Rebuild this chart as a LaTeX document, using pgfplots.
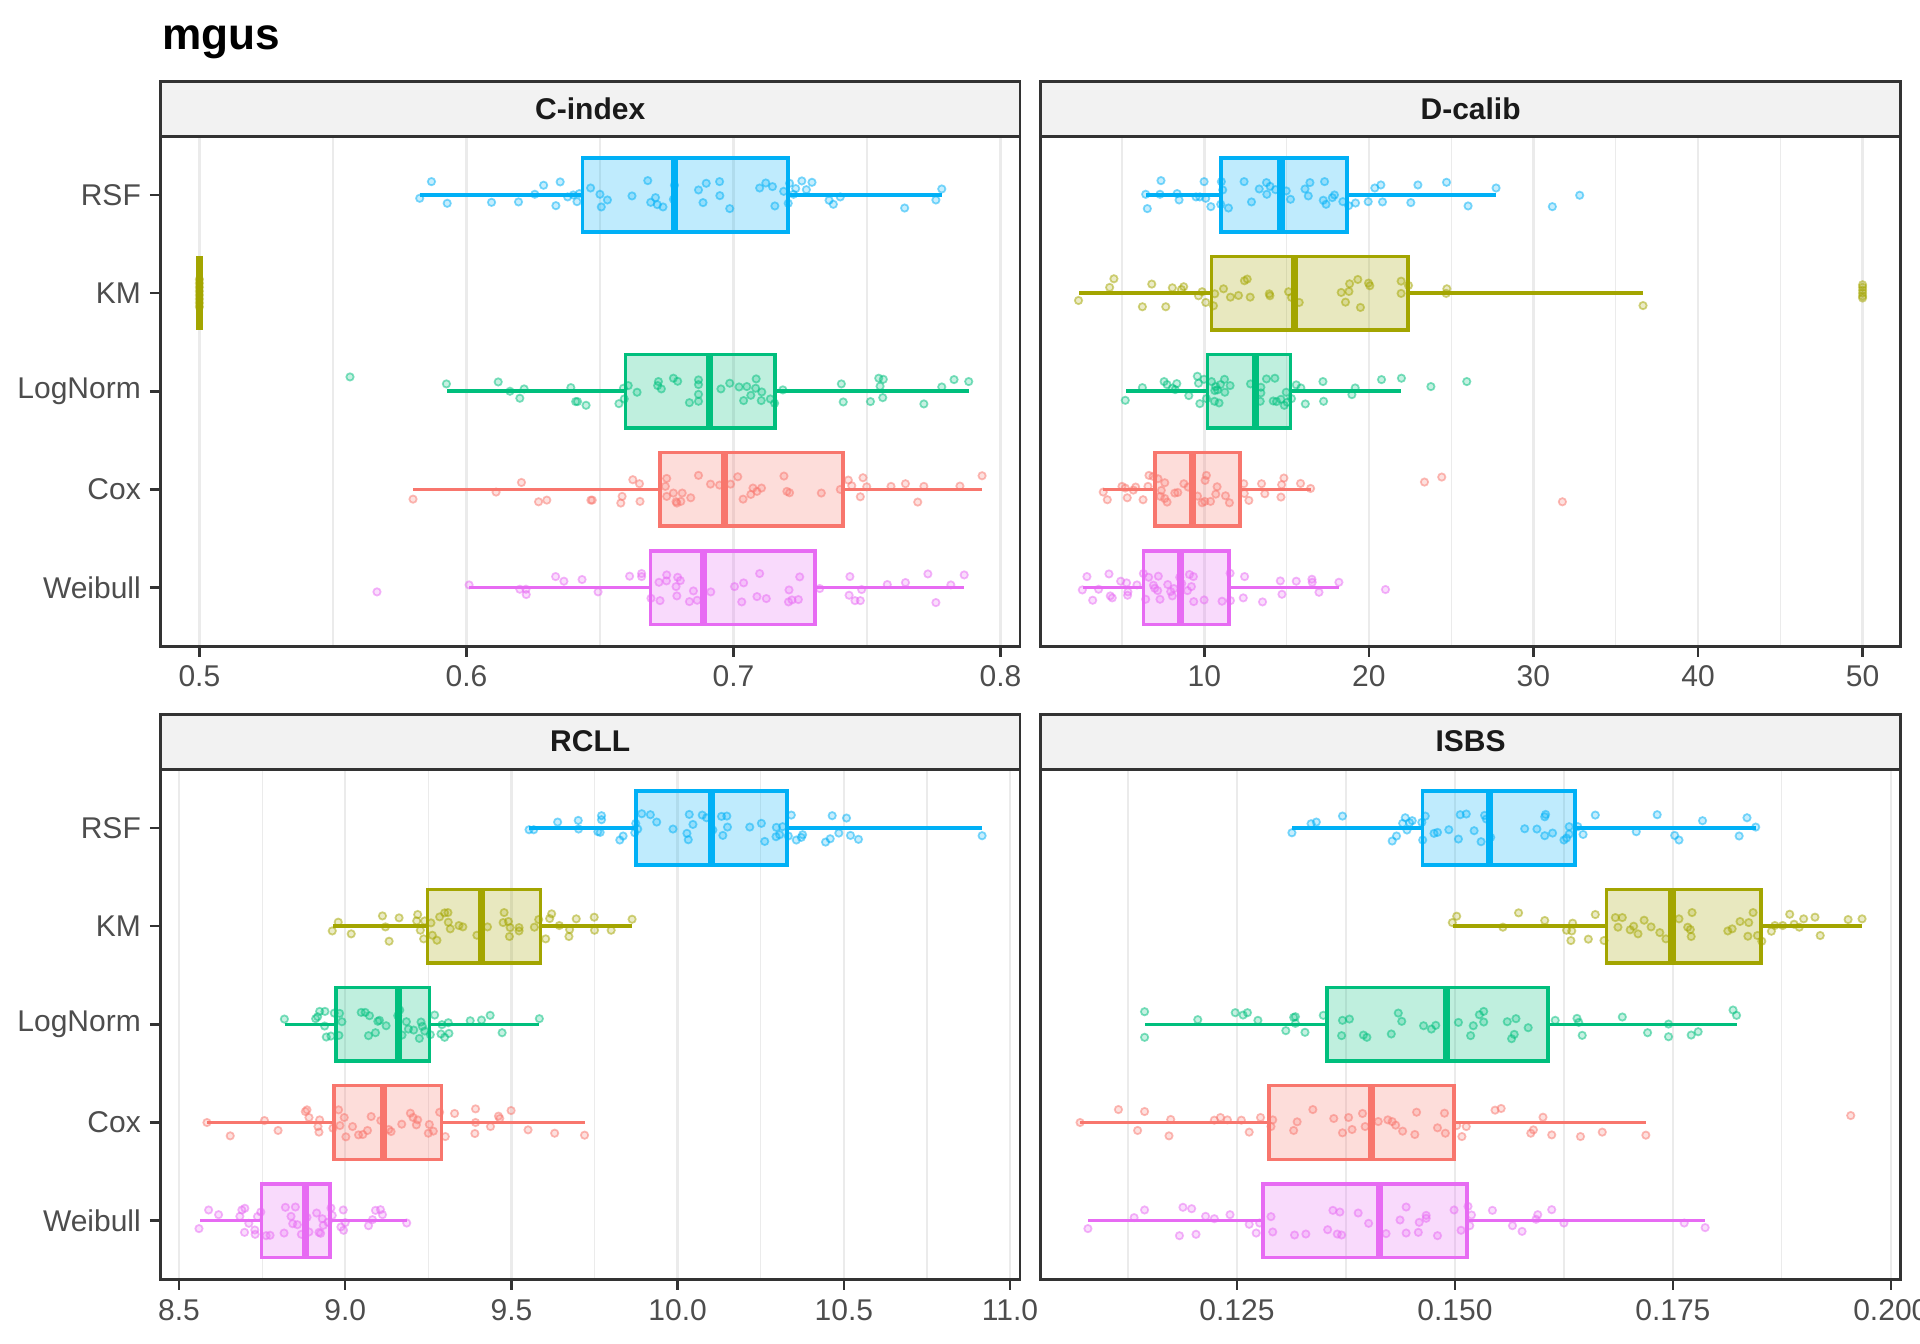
\documentclass[border=0pt]{standalone}
\usepackage{fontspec}
\setmainfont{Liberation Sans}
\usepackage{pgfplots}
\pgfplotsset{compat=1.18}
\usepgfplotslibrary{statistics}
\definecolor{cox}{HTML}{F8766D}
\definecolor{km}{HTML}{A3A500}
\definecolor{lognorm}{HTML}{00BF7D}
\definecolor{rsf}{HTML}{00B0F6}
\definecolor{weib}{HTML}{E76BF3}
\definecolor{grey20}{HTML}{333333}
\definecolor{grey30}{HTML}{4D4D4D}
\definecolor{grey10}{HTML}{1A1A1A}
\definecolor{gridgrey}{HTML}{EBEBEB}
\definecolor{stripgrey}{HTML}{F2F2F2}
\newcommand{\bx}[7]{\addplot[draw=#1, line width=0.85pt, boxplot prepared={draw position=#2, lower whisker=#3, lower quartile=#4, median=#5, upper quartile=#6, upper whisker=#7, box extend=0.75, whisker extend=0, every box/.style={draw=#1, fill=#1, fill opacity=0.25, line width=0.85pt}, every whisker/.style={draw=#1, line width=0.85pt}, every median/.style={draw=#1, line width=1.7pt}}] coordinates {};}
\newcommand{\pts}[2]{\addplot[only marks, mark=*, mark size=0.88pt, mark options={draw=#1, fill=#1, draw opacity=0.5, fill opacity=0.22, line width=0.42pt}] coordinates {#2};}
\newcommand{\strip}[1]{\draw[fill=stripgrey, draw=grey20, line width=0.7pt] (rel axis cs:0,1) rectangle ([yshift=13.2pt]rel axis cs:1,1);
\node[font=\bfseries\fontsize{7.2}{8.6}\selectfont, text=grey10] at ([yshift=6.6pt]rel axis cs:0.5,1) {#1};}
\pgfplotsset{
 panel/.style={scale only axis, width=206.3pt, height=122.5pt, ymin=0.4, ymax=5.6, clip=false,
  axis line style={draw=grey20, line width=0.7pt}, tick align=outside, xtick pos=bottom, ytick pos=left,
  major tick length=2.5pt, minor tick length=0pt, tick style={draw=grey20, line width=0.6pt},
  xmajorgrids, xminorgrids, major grid style={draw=gridgrey, line width=0.6pt}, minor grid style={draw=gridgrey, line width=0.3pt},
  ticklabel style={font=\fontsize{7.2}{8.6}\selectfont, text=grey30},
  xticklabel style={inner sep=0pt, yshift=-2pt}, yticklabel style={inner sep=0pt, xshift=-2pt}},
 leftp/.style={ytick={1,2,3,4,5}, yticklabels={Weibull,Cox,LogNorm,KM,RSF}},
 rightp/.style={ytick=\empty}
}
\begin{document}
\begin{tikzpicture}
\path[use as bounding box] (0,0) rectangle (460.8pt,322.56pt);
\node[anchor=base west, font=\bfseries\fontsize{10.6}{12}\selectfont, inner sep=0pt] at (38.7pt,310.6pt) {mgus};
% ---------------- C-index
\begin{axis}[panel, leftp, at={(38.5pt,167.4pt)}, anchor=south west,
 xmin=0.4854, xmax=0.8073, xtick={0.5,0.6,0.7,0.8}, xticklabels={0.5,0.6,0.7,0.8}, minor xtick={0.55,0.65,0.75}]
\bx{rsf}{5}{0.5825}{0.6434}{0.6779}{0.7204}{0.778}
\bx{km}{4}{0.5}{0.5}{0.5}{0.5}{0.5}
\bx{lognorm}{3}{0.5928}{0.6596}{0.691}{0.7155}{0.7881}
\bx{cox}{2}{0.58}{0.6725}{0.6968}{0.7411}{0.7931}
\bx{weib}{1}{0.601}{0.669}{0.6888}{0.7306}{0.7864}
\pts{rsf}{(0.5869,5.136) (0.5825,4.966) (0.5928,4.915) (0.6094,4.925) (0.6195,4.929) (0.6256,5.007) (0.6289,5.099) (0.6335,4.891) (0.6351,5.133) (0.6379,4.98) (0.6400,5.0) (0.6414,4.932) (0.6423,5.014) (0.6465,5.071) (0.6500,5.007) (0.6505,4.878) (0.6528,4.949) (0.6620,4.99) (0.6679,5.146) (0.6690,4.925) (0.6708,4.973) (0.6715,4.901) (0.6736,4.878) (0.6775,4.956) (0.6779,5.099) (0.6869,5.051) (0.6898,5.119) (0.6948,5.136) (0.6949,4.993) (0.6886,4.922) (0.6986,4.861) (0.7098,5.071) (0.7121,5.122) (0.7146,5.085) (0.7155,4.888) (0.7188,5.037) (0.7205,4.915) (0.7210,5.119) (0.7225,5.007) (0.7233,5.065) (0.7256,5.143) (0.7273,5.054) (0.7294,5.129) (0.7358,4.946) (0.7374,4.905) (0.7400,4.98) (0.7641,4.867) (0.7758,4.949) (0.7780,5.061)}
\pts{km}{(0.5,4.14) (0.5,4.10) (0.5,4.06) (0.5,4.02) (0.5,3.98) (0.5,3.94) (0.5,3.90) (0.5,3.86)}
\pts{lognorm}{(0.5564,3.146) (0.5925,3.075) (0.6119,3.095) (0.6163,3.0) (0.6200,2.929) (0.6216,3.024) (0.6391,3.037) (0.6409,2.895) (0.6416,2.895) (0.6448,2.857) (0.6571,2.874) (0.6591,2.922) (0.6588,3.031) (0.6606,3.058) (0.6639,2.99) (0.6719,3.099) (0.6716,3.058) (0.6730,3.024) (0.6775,3.133) (0.6791,3.102) (0.6869,3.116) (0.6869,3.068) (0.6869,2.969) (0.6869,2.898) (0.6835,2.884) (0.6953,3.024) (0.6986,3.082) (0.7021,3.044) (0.7050,3.048) (0.7085,3.126) (0.7083,3.031) (0.7065,2.959) (0.7038,2.905) (0.7106,2.993) (0.7104,2.905) (0.7138,2.922) (0.7154,2.878) (0.7185,3.014) (0.7404,3.075) (0.7411,2.891) (0.7513,2.895) (0.7544,3.133) (0.7561,3.122) (0.7549,3.051) (0.7559,2.935) (0.7713,2.871) (0.7780,3.044) (0.7826,3.119) (0.7881,3.099)}
\pts{cox}{(0.5800,1.901) (0.6111,1.973) (0.6206,2.071) (0.6270,1.874) (0.6301,1.891) (0.6466,1.891) (0.6471,1.891) (0.6583,1.929) (0.6578,1.861) (0.6623,2.099) (0.6648,2.058) (0.6650,1.878) (0.6750,2.112) (0.6745,2.031) (0.6750,1.929) (0.6775,1.963) (0.6788,1.861) (0.6808,1.963) (0.6785,1.875) (0.6803,1.878) (0.6840,1.915) (0.6869,2.143) (0.6914,2.054) (0.6948,2.044) (0.6989,2.054) (0.7016,2.129) (0.7036,1.901) (0.7065,1.949) (0.7073,2.014) (0.7088,1.98) (0.7105,2.014) (0.7189,2.136) (0.7200,1.98) (0.7210,1.966) (0.7329,1.963) (0.7400,2.0) (0.7430,2.095) (0.7443,2.037) (0.7485,2.119) (0.7499,2.027) (0.7475,1.925) (0.7590,2.031) (0.7644,2.058) (0.7690,1.871) (0.7713,2.031) (0.7848,2.034) (0.7931,2.139)}
\pts{weib}{(0.5665,0.956) (0.6010,1.027) (0.6200,0.983) (0.6223,0.983) (0.6224,0.929) (0.6334,1.112) (0.6365,1.065) (0.6433,1.082) (0.6493,0.956) (0.6611,1.116) (0.6656,1.143) (0.6656,1.112) (0.6691,0.891) (0.6721,1.054) (0.6725,0.867) (0.6750,1.129) (0.6749,1.068) (0.6785,1.01) (0.6791,1.105) (0.6788,0.915) (0.6801,1.071) (0.6850,0.966) (0.6835,0.857) (0.6864,0.871) (0.6915,0.956) (0.7004,1.01) (0.7038,1.048) (0.7098,1.143) (0.7031,0.854) (0.7088,0.908) (0.7123,0.888) (0.7208,0.976) (0.7206,0.854) (0.7219,0.874) (0.7243,0.878) (0.7248,1.109) (0.7323,0.99) (0.7436,1.112) (0.7433,0.922) (0.7455,0.867) (0.7475,0.867) (0.7480,0.98) (0.7576,1.031) (0.7644,1.051) (0.7728,1.139) (0.7758,0.847) (0.7814,1.027) (0.7864,1.129)}
\strip{C-index}
\end{axis}
% ---------------- D-calib
\begin{axis}[panel, rightp, at={(249.8pt,167.4pt)}, anchor=south west,
 xmin=0.07, xmax=52.3, xtick={10,20,30,40,50}, xticklabels={10,20,30,40,50}, minor xtick={5,15,25,35,45}]
\bx{rsf}{5}{6.44}{11.02}{14.66}{18.66}{27.73}
\bx{km}{4}{2.36}{10.44}{15.51}{22.37}{36.66}
\bx{lognorm}{3}{5.26}{10.2}{13.12}{15.25}{21.98}
\bx{cox}{2}{3.86}{7.02}{9.29}{12.17}{16.46}
\bx{weib}{1}{2.63}{6.32}{8.57}{11.51}{18.18}
\pts{rsf}{(6.44,5.007) (6.54,4.861) (7.37,5.146) (7.31,5.007) (8.35,5.014) (8.47,4.949) (9.50,4.98) (9.73,4.98) (9.99,5.136) (10.09,4.966) (10.40,4.881) (11.04,5.136) (11.12,5.051) (11.00,4.905) (11.47,4.867) (12.42,5.136) (12.87,4.929) (13.34,5.061) (13.78,5.126) (13.80,5.007) (14.00,5.088) (14.33,5.054) (14.98,5.041) (15.24,4.956) (16.12,5.061) (16.32,4.99) (16.42,5.126) (17.31,5.136) (17.23,4.946) (17.40,4.905) (17.78,4.973) (17.91,5.0) (18.42,4.932) (18.77,4.891) (19.19,4.918) (19.96,4.932) (20.36,5.071) (20.73,5.102) (20.83,4.929) (22.55,4.922) (22.98,5.102) (24.72,5.129) (26.03,4.888) (27.73,5.071) (31.15,4.881) (32.81,4.997)}
\pts{km}{(2.36,3.925) (4.25,4.058) (4.51,4.146) (6.24,3.861) (6.81,4.092) (7.66,3.861) (8.06,4.054) (8.61,4.037) (8.75,4.065) (9.65,3.973) (9.87,4.014) (10.09,3.905) (10.56,3.871) (10.64,3.993) (11.17,4.044) (11.59,3.959) (12.08,3.976) (12.44,4.126) (12.61,4.143) (12.79,3.959) (13.95,3.993) (13.99,3.973) (15.12,4.014) (15.30,3.956) (15.77,3.905) (18.32,4.007) (18.58,3.908) (18.79,4.017) (18.83,4.095) (19.33,4.139) (19.49,3.854) (19.98,4.102) (20.06,4.075) (21.96,4.122) (21.96,3.997) (22.41,4.078) (24.74,4.044) (24.70,3.997) (36.66,3.873) (50,4.085) (50,4.06) (50,4.03) (50,4.0) (50,3.97) (50,3.95)}
\pts{lognorm}{(5.20,2.908) (6.24,3.037) (7.56,3.099) (7.74,3.068) (8.06,3.031) (8.33,3.078) (8.23,3.017) (9.06,2.956) (9.58,3.153) (9.65,3.082) (9.73,2.874) (9.99,3.122) (10.13,2.925) (10.44,3.099) (10.64,3.007) (10.70,3.048) (10.80,3.014) (10.90,2.881) (10.62,2.898) (10.98,3.068) (11.25,2.99) (11.23,3.122) (11.57,3.058) (12.81,3.075) (13.44,3.041) (13.40,2.898) (13.44,2.983) (13.78,3.126) (14.29,3.133) (14.19,2.901) (14.39,2.895) (14.66,2.918) (14.86,2.857) (14.98,2.99) (15.04,2.888) (15.30,2.925) (15.59,3.065) (15.87,3.034) (16.14,2.871) (17.21,3.099) (17.25,2.898) (19.17,3.034) (18.97,2.966) (20.77,3.119) (21.98,3.133) (23.77,3.048) (25.95,3.099)}
\pts{cox}{(3.86,1.973) (4.11,1.895) (5.00,2.031) (5.20,2.014) (5.32,1.915) (5.69,1.993) (5.83,2.024) (6.28,1.895) (6.64,2.143) (6.89,2.133) (6.58,2.031) (7.19,2.109) (7.39,1.99) (7.60,2.068) (7.33,1.929) (7.60,1.908) (7.74,1.871) (8.21,1.963) (8.39,1.969) (8.76,2.058) (9.02,2.024) (9.59,1.932) (9.87,1.864) (10.03,1.878) (10.13,2.143) (10.05,2.092) (10.38,1.878) (10.70,1.952) (10.78,2.027) (11.29,1.935) (11.53,1.864) (12.40,2.058) (12.43,1.959) (12.71,1.888) (13.48,2.058) (13.68,1.956) (14.66,1.922) (14.70,2.048) (14.84,2.116) (15.85,2.061) (16.46,2.01) (23.38,2.075) (24.43,2.126) (31.76,1.874)}
\pts{weib}{(2.59,0.976) (2.87,1.112) (3.22,0.871) (3.58,0.983) (4.21,1.139) (4.29,0.915) (4.41,0.895) (4.92,1.065) (5.28,1.048) (5.36,0.956) (5.34,0.922) (5.91,1.027) (6.30,1.143) (6.44,0.881) (6.62,1.105) (6.91,1.024) (6.99,0.993) (7.17,0.969) (7.21,1.116) (7.31,0.881) (7.78,1.031) (7.96,0.959) (8.06,0.915) (8.16,0.99) (8.51,1.105) (8.63,1.041) (9.10,1.133) (9.34,1.112) (9.22,1.01) (8.98,0.969) (9.36,0.857) (9.99,0.874) (11.08,0.861) (11.57,1.146) (11.59,0.867) (12.37,0.895) (12.45,1.112) (13.54,0.854) (14.62,1.068) (14.72,0.932) (15.59,1.065) (16.54,1.085) (16.56,1.054) (16.97,0.952) (18.18,1.054) (21.01,0.98)}
\strip{D-calib}
\end{axis}
% ---------------- RCLL
\begin{axis}[panel, leftp, at={(38.5pt,15.46pt)}, anchor=south west,
 xmin=8.444, xmax=11.03, xtick={8.5,9,9.5,10,10.5,11}, xticklabels={8.5,9.0,9.5,10.0,10.5,11.0}, minor xtick={8.75,9.25,9.75,10.25,10.75}]
\bx{rsf}{5}{9.553}{9.874}{10.103}{10.329}{10.916}
\bx{km}{4}{8.963}{9.247}{9.409}{9.587}{9.863}
\bx{lognorm}{3}{8.818}{8.973}{9.16}{9.253}{9.584}
\bx{cox}{2}{8.584}{8.967}{9.115}{9.29}{9.72}
\bx{weib}{1}{8.562}{8.748}{8.88}{8.954}{9.185}
\pts{rsf}{(9.553,4.983) (9.567,4.983) (9.639,5.061) (9.701,5.078) (9.702,4.99) (9.760,4.963) (9.767,4.956) (9.771,5.126) (9.771,5.085) (9.826,4.878) (9.836,4.919) (9.871,4.952) (9.874,5.048) (9.880,4.99) (9.892,5.146) (9.918,5.136) (9.937,5.061) (9.986,4.99) (10.028,4.946) (10.032,4.881) (10.035,5.139) (10.046,5.037) (10.074,5.132) (10.087,5.105) (10.106,4.98) (10.132,5.119) (10.148,5.122) (10.150,5.01) (10.136,4.925) (10.217,5.01) (10.252,5.048) (10.262,4.864) (10.297,5.007) (10.296,4.912) (10.307,4.932) (10.316,5.014) (10.333,4.919) (10.342,5.132) (10.357,4.878) (10.372,4.905) (10.376,4.932) (10.445,4.857) (10.459,4.891) (10.465,5.126) (10.485,4.949) (10.508,5.102) (10.520,4.925) (10.544,4.885) (10.916,4.922)}
\pts{km}{(8.961,3.952) (8.979,4.041) (9.018,3.922) (9.112,4.105) (9.121,3.993) (9.132,3.847) (9.162,4.085) (9.218,4.119) (9.215,4.054) (9.226,3.959) (9.236,3.871) (9.239,4.054) (9.258,4.034) (9.262,3.908) (9.276,3.857) (9.284,4.095) (9.299,4.136) (9.309,4.139) (9.310,4.041) (9.316,3.973) (9.342,4.007) (9.354,3.993) (9.396,3.908) (9.428,3.993) (9.478,4.139) (9.475,4.037) (9.491,4.048) (9.496,3.986) (9.494,3.895) (9.523,3.986) (9.523,3.952) (9.569,3.99) (9.582,4.068) (9.603,3.871) (9.615,4.078) (9.621,4.126) (9.644,4.007) (9.673,3.895) (9.675,3.966) (9.695,4.075) (9.749,4.092) (9.750,3.959) (9.800,3.959) (9.863,4.071)}
\pts{lognorm}{(8.817,3.054) (8.911,3.058) (8.917,3.078) (8.923,3.132) (8.939,3.132) (8.938,2.983) (8.943,2.871) (8.957,2.881) (8.967,3.115) (8.981,2.888) (8.983,3.112) (8.990,3.027) (9.048,3.122) (9.060,3.122) (9.073,3.088) (9.070,2.885) (9.091,2.915) (9.098,3.031) (9.103,3.041) (9.123,2.986) (9.158,3.088) (9.164,3.146) (9.171,2.891) (9.184,3.027) (9.190,2.952) (9.206,2.942) (9.223,2.857) (9.228,3.024) (9.232,2.98) (9.239,2.932) (9.256,2.895) (9.269,3.095) (9.291,2.997) (9.288,2.902) (9.299,2.868) (9.310,3.017) (9.312,2.908) (9.376,3.037) (9.410,3.044) (9.436,3.092) (9.472,2.915) (9.584,3.058)}
\pts{cox}{(8.584,2.0) (8.654,1.864) (8.757,2.02) (8.798,1.919) (8.880,2.112) (8.885,2.129) (8.891,2.051) (8.918,1.959) (8.921,1.902) (8.923,2.027) (8.963,1.942) (8.980,2.129) (8.984,1.969) (8.997,2.051) (9.002,1.854) (9.022,1.959) (9.040,1.874) (9.053,1.878) (9.067,1.919) (9.078,2.061) (9.107,2.02) (9.131,1.929) (9.138,1.908) (9.170,1.983) (9.196,2.095) (9.204,2.051) (9.218,2.027) (9.214,1.976) (9.253,1.98) (9.250,1.891) (9.265,1.912) (9.284,2.105) (9.301,1.857) (9.329,2.092) (9.390,1.888) (9.392,2.139) (9.392,2.0) (9.437,1.959) (9.461,2.065) (9.465,2.041) (9.499,2.122) (9.550,1.925) (9.630,1.891) (9.720,1.871)}
\pts{weib}{(8.560,0.919) (8.589,1.109) (8.619,1.061) (8.683,1.044) (8.689,1.109) (8.698,1.126) (8.697,0.881) (8.710,0.973) (8.728,0.905) (8.729,0.861) (8.736,1.041) (8.746,1.088) (8.762,0.847) (8.774,0.851) (8.816,0.874) (8.820,1.136) (8.837,1.044) (8.850,1.139) (8.842,0.969) (8.856,0.959) (8.868,0.861) (8.885,1.034) (8.891,0.885) (8.914,1.078) (8.921,0.881) (8.926,0.871) (8.931,1.02) (8.934,0.952) (8.948,0.983) (8.957,1.129) (8.961,1.054) (8.987,0.936) (8.994,1.109) (8.995,0.902) (9.000,0.98) (9.070,0.949) (9.082,1.01) (9.091,1.105) (9.106,1.112) (9.112,1.061) (9.185,0.976)}
\strip{RCLL}
\end{axis}
% ---------------- ISBS
\begin{axis}[panel, rightp, at={(249.8pt,15.46pt)}, anchor=south west,
 xmin=0.1025, xmax=0.2011, xtick={0.125,0.15,0.175,0.2}, xticklabels={0.125,0.150,0.175,0.200}, minor xtick={0.1125,0.1375,0.1625,0.1875}]
\bx{rsf}{5}{0.1313}{0.1463}{0.154}{0.1638}{0.1845}
\bx{km}{4}{0.1498}{0.1674}{0.1749}{0.1851}{0.1967}
\bx{lognorm}{3}{0.1144}{0.1353}{0.149}{0.1607}{0.1823}
\bx{cox}{2}{0.107}{0.1287}{0.1404}{0.1499}{0.1719}
\bx{weib}{1}{0.1079}{0.128}{0.1413}{0.1514}{0.1787}
\pts{rsf}{(0.1313,4.952) (0.1335,5.044) (0.1341,5.061) (0.1371,5.122) (0.1428,4.868) (0.1433,4.919) (0.1440,5.048) (0.1443,5.105) (0.1445,4.98) (0.1448,5.054) (0.1451,5.075) (0.1462,5.058) (0.1466,5.122) (0.1463,4.878) (0.1476,4.946) (0.1480,4.956) (0.1493,4.983) (0.1504,4.888) (0.1506,5.136) (0.1513,5.143) (0.1534,5.129) (0.1522,4.973) (0.1530,4.861) (0.1536,5.092) (0.1541,4.905) (0.1580,4.993) (0.1594,4.99) (0.1604,5.139) (0.1603,5.115) (0.1603,4.922) (0.1612,4.949) (0.1625,4.878) (0.1628,4.898) (0.1631,5.014) (0.1631,4.939) (0.1641,5.014) (0.1647,4.935) (0.1661,5.132) (0.1708,4.963) (0.1732,5.136) (0.1752,4.925) (0.1757,4.878) (0.1784,5.075) (0.1826,4.919) (0.1835,5.105) (0.1845,5.01)}
\pts{km}{(0.1497,4.037) (0.1502,4.102) (0.1555,3.99) (0.1573,4.136) (0.1603,4.058) (0.1628,3.959) (0.1634,3.952) (0.1635,4.031) (0.1633,3.854) (0.1653,3.868) (0.1661,4.119) (0.1671,3.854) (0.1684,4.088) (0.1692,4.088) (0.1687,3.99) (0.1701,3.963) (0.1705,4.0) (0.1710,3.922) (0.1717,4.061) (0.1725,3.993) (0.1735,3.935) (0.1742,3.871) (0.1757,4.075) (0.1767,3.99) (0.1770,3.966) (0.1771,3.895) (0.1772,4.139) (0.1813,3.952) (0.1818,3.973) (0.1827,4.048) (0.1837,4.037) (0.1842,4.139) (0.1836,3.898) (0.1847,3.905) (0.1852,3.847) (0.1863,3.949) (0.1867,4.007) (0.1876,4.007) (0.1884,4.122) (0.1889,4.02) (0.1895,3.99) (0.1900,4.075) (0.1913,4.092) (0.1919,3.905) (0.1951,4.068) (0.1967,4.075)}
\pts{lognorm}{(0.1144,3.129) (0.1144,2.868) (0.1205,3.048) (0.1248,3.119) (0.1257,3.095) (0.1262,3.119) (0.1274,3.041) (0.1306,2.936) (0.1315,3.071) (0.1317,3.078) (0.1317,3.01) (0.1328,2.919) (0.1349,3.092) (0.1370,2.885) (0.1371,3.041) (0.1379,3.054) (0.1395,2.891) (0.1399,2.868) (0.1427,2.902) (0.1435,3.115) (0.1439,3.031) (0.1464,2.986) (0.1473,2.952) (0.1478,2.99) (0.1504,3.02) (0.1518,2.885) (0.1521,2.986) (0.1528,3.098) (0.1533,3.132) (0.1533,3.024) (0.1560,3.027) (0.1570,3.058) (0.1568,2.898) (0.1565,2.854) (0.1584,2.966) (0.1615,3.041) (0.1640,3.061) (0.1642,3.02) (0.1646,2.888) (0.1692,3.075) (0.1721,2.915) (0.1745,3.003) (0.1745,2.874) (0.1771,2.891) (0.1779,2.925) (0.1819,3.146) (0.1823,3.092)}
\pts{cox}{(0.1070,2.0) (0.1114,2.132) (0.1136,1.919) (0.1144,2.112) (0.1172,1.864) (0.1174,2.031) (0.1224,2.024) (0.1231,2.051) (0.1239,2.027) (0.1255,2.024) (0.1264,1.902) (0.1277,2.051) (0.1289,1.959) (0.1291,2.027) (0.1315,1.919) (0.1319,2.007) (0.1337,2.132) (0.1361,2.041) (0.1371,1.895) (0.1378,2.051) (0.1382,1.929) (0.1394,2.092) (0.1397,1.959) (0.1412,2.01) (0.1423,2.027) (0.1428,2.01) (0.1432,1.973) (0.1440,1.912) (0.1454,1.878) (0.1456,2.105) (0.1480,1.946) (0.1488,2.095) (0.1489,1.891) (0.1502,1.969) (0.1508,1.857) (0.1513,1.959) (0.1546,2.126) (0.1553,2.143) (0.1587,1.891) (0.1590,1.925) (0.1601,2.054) (0.1611,1.874) (0.1644,1.857) (0.1669,1.902) (0.1719,1.871) (0.1954,2.071)}
\pts{weib}{(0.1079,0.919) (0.1132,1.031) (0.1144,1.109) (0.1184,0.847) (0.1188,1.136) (0.1198,1.122) (0.1203,0.861) (0.1214,1.044) (0.1224,1.02) (0.1242,1.061) (0.1264,0.963) (0.1272,0.874) (0.1276,0.976) (0.1289,1.041) (0.1291,0.885) (0.1316,0.854) (0.1329,0.864) (0.1354,0.908) (0.1360,1.105) (0.1368,1.088) (0.1365,0.864) (0.1370,0.854) (0.1389,1.078) (0.1401,0.973) (0.1421,0.868) (0.1437,1.007) (0.1444,1.139) (0.1444,0.874) (0.1458,0.881) (0.1459,0.983) (0.1467,1.054) (0.1467,1.024) (0.1480,0.847) (0.1499,1.109) (0.1507,0.902) (0.1515,1.146) (0.1519,1.058) (0.1517,0.949) (0.1543,1.105) (0.1566,0.949) (0.1577,0.891) (0.1593,1.014) (0.1595,1.061) (0.1611,1.112) (0.1625,0.976) (0.1763,0.976) (0.1787,0.929)}
\strip{ISBS}
\end{axis}
\end{tikzpicture}
\end{document}
